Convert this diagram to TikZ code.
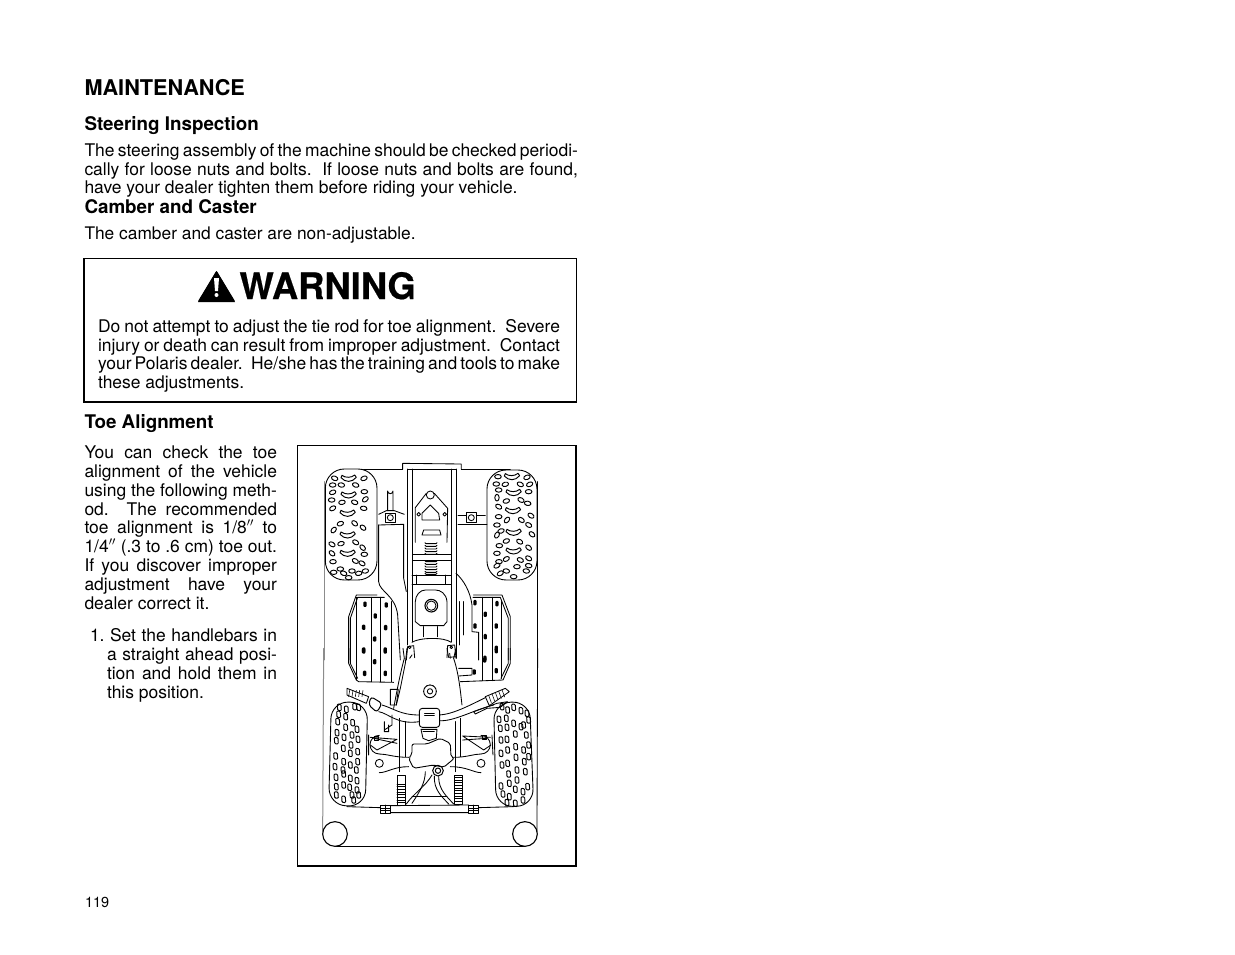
\documentclass[tikz,border=0pt]{standalone}
\usepackage{fontspec}
\setmainfont{TeX Gyre Heros}
\newfontfamily\warnfont{TeX Gyre Heros}[BoldFeatures={FakeBold=0.5}]
\newcommand\bodyfont{\fontsize{17.45}{19}\selectfont}
\newcommand\jl[5]{\node[txt] (#1) at (#2,#3) {\bodyfont\hbox to #4pt{\spaceskip=.278em plus 1fil minus .12em\relax #5}};}
\newcommand\nl[4]{\node[txt] (#1) at (#2,#3) {\bodyfont #4};}
\newcommand\dsp{\hskip .56em plus 2fil minus .1em\relax}
\newcommand\tread[1]{\foreach \x/\y/\a in {#1}{\draw[line width=.95pt,rotate around={\a:(\x,\y)}] (\x,\y) ellipse (10 and 6.5);}}
\newcommand\lug[1]{\foreach \x/\y in {#1}{\draw[line width=.95pt,rounded corners=1pt] (\x-6,\y-10) -- (\x+5,\y-9) -- (\x+6,\y+10) -- (\x-5,\y+9) -- cycle;}}
\newcommand\chev[1]{\foreach \x/\y in {#1}{\draw[line width=.95pt,line join=round] (\x-20,\y-9) .. controls (\x-10,\y-1) and (\x+8,\y-1) .. (\x+18,\y-10) -- (\x+23,\y-3) .. controls (\x+10,\y+13) and (\x-10,\y+13) .. (\x-23,\y-2) -- cycle;}}
\newcommand\peg[1]{\foreach \x/\y in {#1}{\fill[black,rounded corners=1] (\x-5,\y-8) rectangle (\x+5,\y+8);}}
\tikzset{txt/.style={anchor=base west,inner sep=0pt,outer sep=0pt,text=black},
 art/.style={line width=0.85pt,black,line join=round,line cap=round},
 fine/.style={line width=0.55pt,black,line join=round},
 edge/.style={line width=1pt,black!45}}
\begin{document}
\begin{tikzpicture}[x=1pt,y=-1pt]
\useasboundingbox (0,0) rectangle (1235,954);
\fill[white] (0,0) rectangle (1235,954);
% headings
\node[txt,font=\fontsize{21.7}{24}\selectfont\bfseries] (h1) at (84.5,95) {MAINTENANCE};
\node[txt,font=\fontsize{18.8}{20}\selectfont\bfseries] (h2) at (84.5,130) {Steering Inspection};
\jl{a1}{84.5}{156}{493.5}{The steering assembly of the machine should be checked periodi-}
\jl{a2}{84.5}{175}{493.5}{cally for loose nuts and bolts.\dsp If loose nuts and bolts are found,}
\nl{a3}{84.5}{193}{have your dealer tighten them before riding your vehicle.}
\node[txt,font=\fontsize{18.8}{20}\selectfont\bfseries] (h3) at (84.5,213) {Camber and Caster};
\node[txt,font=\fontsize{17.35}{19}\selectfont] (b1) at (84.5,239) {The camber and caster are non-adjustable.};
% warning
\draw[line width=1.1pt] (84,258.5) rectangle (576.5,402);
\fill[line join=round] (198,302) -- (216.5,271) -- (235,302) -- cycle;
\draw[line width=1.5pt,line join=round] (199,301) -- (216.5,272) -- (234,301) -- cycle;
\fill[white] (214,278) -- (219,278) -- (218,291) -- (215,291) -- cycle;
\fill[white] (216.5,295) circle (2);
\node[txt,font=\fontsize{36.4}{38}\warnfont\bfseries] (w1) at (239.5,299) {WARNING};
\jl{c1}{98}{332}{462}{Do not attempt to adjust the tie rod for toe alignment.\dsp Severe}
\jl{c2}{98}{351}{462}{injury or death can result from improper adjustment.\dsp Contact}
\jl{c3}{98}{369}{462}{your Polaris dealer.\dsp He/she has the training and tools to make}
\nl{c4}{98}{388}{these adjustments.}
\node[txt,font=\fontsize{18.8}{20}\selectfont\bfseries] (h4) at (84.5,428) {Toe Alignment};
% column
\jl{d1}{84.5}{458}{192.5}{You can check the toe}
\jl{d2}{84.5}{477}{192.5}{alignment of the vehicle}
\jl{d3}{84.5}{496}{192.5}{using the following meth-}
\jl{d4}{84.5}{515}{192.5}{od.\dsp The recommended}
\jl{d5}{84.5}{533}{192.5}{toe alignment is 1/8$''$ to}
\jl{d6}{84.5}{552}{192.5}{1/4$''$ (.3 to .6 cm) toe out.}
\jl{d7}{84.5}{571}{192.5}{If you discover improper}
\jl{d8}{84.5}{590}{192.5}{adjustment have your}
\nl{d9}{84.5}{609}{dealer correct it.}
\jl{e1}{90}{641}{187}{1.\kern5.5pt Set the handlebars in}
\jl{e2}{107}{660}{170}{a straight ahead posi-}
\jl{e3}{107}{679}{170}{tion and hold them in}
\nl{e4}{107}{698}{this position.}
\node[txt,font=\fontsize{14.5}{16}\selectfont] (pg) at (85,907) {119};
% figure frame
\draw[line width=1.2pt] (297.5,445.5) rectangle (576,866);
% ---- upper half of the figure
\begin{scope}[shift={(297,445)},x=0.3333pt,y=-0.3333pt,art]
\draw[edge] (83,110) -- (83,645);
\draw (722,110) -- (722,645);
\draw (150,72) -- (317,72) (493,72) -- (640,72);
\draw (317,55) -- (493,57) -- (493,72) (317,55) -- (317,72);
\draw (332,72) -- (332,600) (345,72) -- (345,590) (463,72) -- (463,590) (477,72) -- (477,640);
\draw (332,72) -- (477,72);
\fill[white,draw=black,line width=.9pt,rounded corners=19pt] (85,72) rectangle (240,405);
\fill[white,draw=black,line width=.9pt,rounded corners=19pt] (570,75) rectangle (720,405);
\chev{155/100,155/150,152/205,152/270,152/325,645/95,650/143,648/197,650/262,650/318}
\tread{113/100/-20,107/120/0,133/120/-10,176/120/-20,201/100/20,107/142/20,202/140/0,104/165/0,135/172/10,173/172/-20,205/163/40,107/190/30,200/190/-10,130/236/20,173/235/-40,198/248/-40,110/255/50,105/298/-30,132/296/15,176/292/-30,197/308/-45,105/325/-40,202/328/0,108/350/0,175/348/-30,195/355/-30,130/372/0,165/378/0,205/378/10,110/382/0,140/385/-20,185/385/10,155/398/0}
\tread{603/95/0,690/97/20,598/117/0,625/118/15,670/118/-25,698/118/25,605/135/0,695/140/0,600/158/90,628/168/15,672/165/-30,692/175/-10,605/185/-30,630/225/50,673/225/-35,702/212/-35,605/215/0,600/240/0,612/258/20,695/240/-30,668/290/-30,705/268/-40,600/270/60,628/288/20,607/302/0,695/308/-40,600/325/0,628/342/30,670/345/-25,695/340/-30,606/350/0,600/362/30,628/378/-10,660/365/0,695/362/-10,610/385/30,650/395/0,688/378/-10}
% rear axle
\draw[line width=.9pt] (272,197) -- (272,138) arc[start angle=180,end angle=0,radius=8] -- (288,197);
\draw (245,208) -- (268,197) -- (292,197) -- (322,208);
\draw (265,205) rectangle (295,232);
\draw (280,218) circle (9);
\draw (483,210) -- (508,210) (538,210) -- (565,210) (483,238) -- (570,238);
\draw (508,203) rectangle (538,232);
\draw (523,218) circle (9);
\draw (245,240) -- (320,238) -- (320,400) -- (328,440);
\draw (245,240) -- (245,410) .. controls (247,440) and (295,450) .. (302,510) -- (310,645);
% centre plate
\draw (400,150) circle (12);
\draw (388,145) -- (355,188) -- (355,292) (412,145) -- (452,190) -- (450,292);
\draw (375,205) -- (400,180) -- (425,205) -- (428,225) -- (375,225) -- cycle;
\draw (365,208) circle (5.5) (443,208) circle (5.5);
\draw (375,270) -- (380,255) -- (428,255) -- (432,270) -- cycle;
\foreach \y in {296,304,312,320,328,350,358,366,374,382,388}{\draw[rounded corners=1pt] (384,\y-3) -- (384,\y) -- (420,\y) -- (420,\y-3);}
\fill[white,draw=black] (345,328) rectangle (463,345);
\draw[line width=.9pt] (345,390) -- (463,390) (345,417) -- (463,417);
\draw (358,390) -- (358,417) (445,390) -- (445,417);
\draw (355,470) -- (355,530) -- (370,542) -- (440,542) -- (450,530) -- (450,470) .. controls (448,445) and (430,435) .. (415,435) -- (385,435) .. controls (370,435) and (355,450) .. (355,470) -- cycle;
\draw[line width=1.1pt] (403,482) circle (19);
\draw (403,482) circle (14);
\draw (380,545) -- (380,575) (420,545) -- (420,575);
\draw (345,592) .. controls (365,578) and (440,575) .. (463,592);
\draw (328,645) -- (332,605) -- (350,602) -- (353,638) (345,630) -- (338,640);
\draw (450,638) -- (452,602) -- (473,600) -- (477,640) (458,625) -- (460,640);
\draw (338,607) circle (4) (463,607) circle (4);
% front fender right
\draw (477,385) .. controls (500,405) and (520,440) .. (525,480) -- (525,560) -- (545,562) -- (545,645);
\draw (488,470) -- (488,600) (498,470) -- (498,570);
% foot boards
\draw (155,645) -- (155,515) -- (178,450) -- (240,450);
\draw (160,645) -- (160,520) -- (182,457) -- (262,457);
\draw (178,457) -- (178,645) (222,457) -- (222,645) (250,457) -- (250,645) (282,470) -- (282,645);
\peg{204/478,268/480,235/513,200/547,266/548,233/582,200/615,265/615}
\draw (640,645) -- (640,515) -- (615,450) -- (530,450);
\draw (634,645) -- (634,520) -- (610,457) -- (528,457);
\draw (555,457) -- (555,645) (585,457) -- (585,645) (612,470) -- (612,645);
\peg{534/473,600/476,565/508,534/543,598/543,565/575,598/610,564/640}
\end{scope}
% ---- lower half of the figure
\begin{scope}[shift={(297,650)},x=0.3333pt,y=-0.3333pt,art]
\draw (155,-5) -- (155,40) -- (178,90) -- (185,95) -- (290,97);
\draw (160,-5) -- (160,40) -- (182,85);
\draw (178,-5) -- (178,90) (222,-5) -- (222,95) (250,-5) -- (250,95) (282,-5) -- (282,95);
\peg{200/3,265/3,233/35,203/70,265/70}
\draw (640,-5) -- (640,40) -- (618,90) -- (490,95);
\draw (634,-5) -- (634,40) -- (612,85);
\draw (555,-5) -- (555,92) (585,-5) -- (585,92) (612,-5) -- (612,85);
\draw (485,55) -- (525,55) -- (525,75) -- (485,78);
\peg{598/2,563/30,532/66,598/62}
\draw (322,25) .. controls (312,60) and (300,120) .. (290,175);
\draw (318,-5) -- (322,25) (330,-5) -- (325,40) -- (310,115) -- (298,165);
\draw (470,25) .. controls (485,70) and (490,120) .. (495,165);
\draw (477,-5) -- (470,25) (450,-5) -- (455,22) -- (478,20);
\draw (280,118) -- (304,118) -- (298,165) -- (280,165) -- cycle;
\draw (399,124) circle (19) (399,124) circle (8);
\foreach \a in {0,30,...,330}{\fill (399,124) ++(\a:19) circle (2);}
% outer frame
\draw[edge] (80,-5) -- (77,545);
\draw (722,-5) -- (720,545);
\draw[line width=.9pt] (114,588) -- (684,588);
\fill[white,draw=black,line width=1.1pt] (114,552) circle (37) (684,552) circle (37);
\draw (150,470) -- (250,473) (545,473) -- (650,470);
% tyres
\fill[white,draw=black,line width=.9pt,rounded corners=17pt] (103,155) -- (212,158) -- (205,470) -- (95,465) -- cycle;
\fill[white,draw=black,line width=.9pt,rounded corners=17pt] (590,158) -- (698,155) -- (710,468) -- (597,470) -- cycle;
\lug{127/172,148/178,173/170,125/193,146/200,185/172,122/215,167/218,146/232,120/248,180/238,141/262,165/255,118/272,183/268,139/295,162/285,116/318,182/305,160/310,140/335,114/350,160/345,182/335,138/360,178/360,117/382,140/372,160/385,180/392,118/410,140/405,158/412,118/435,140/448,165/435,185/435,170/450,180/420}
\lug{615/170,632/180,650/172,672/182,690/190,606/208,628/205,650/220,672/230,695/210,610/235,630/232,655/252,680/225,612/270,630/268,656/290,688/255,612/310,632/300,680/300,695/285,615/345,632/340,657/322,682/335,695/320,635/372,660/360,685/365,612/408,637/400,660/390,692/410,618/432,637/440,655/418,678/425,630/458,655/460,678/450}
% handlebar
\draw (150,115) -- (215,140) -- (208,160) -- (150,135) -- cycle;
\foreach \i in {158,168,178,188,198}{\draw[fine] (\i,121) -- (\i-3,140);}
\fill[white,draw=black,line width=1pt,rounded corners=3pt] (222,140) -- (255,160) -- (240,187) -- (215,165) -- cycle;
\draw (255,165) .. controls (290,175) and (310,195) .. (367,195);
\draw (245,185) .. controls (275,190) and (300,225) .. (367,215);
\draw[rounded corners=3pt,line width=.9pt] (367,175) rectangle (428,232);
\draw (383,190) -- (412,190) (383,196) -- (412,196);
\draw (428,195) .. controls (470,192) and (520,165) .. (565,143);
\draw (428,212) .. controls (470,215) and (530,180) .. (590,165);
\draw (565,140) -- (625,115) -- (637,125) -- (577,167) -- cycle;
\foreach \i/\j in {575/136,585/131,595/127,605/123,615/119}{\draw[fine] (\i,\j) -- (\i+8,\j+22);}
\draw (530,185) -- (600,160) -- (632,155) -- (610,172) -- (570,175) -- (535,192) -- cycle;
\draw (285,195) -- (285,225) -- (262,240) (262,215) -- (262,245) -- (275,245) -- (275,225);
\draw (308,205) -- (308,365) (325,215) -- (325,320);
\draw (475,215) -- (475,365) (490,205) -- (490,320);
\draw (372,238) -- (420,238) -- (418,265) -- (395,272) -- (378,265) -- cycle;
\draw (378,245) -- (412,245);
\draw[line width=.9pt,rounded corners=2pt] (345,282) -- (390,282) -- (430,265) -- (460,280) -- (462,320) -- (472,325) -- (440,352) -- (410,345) -- (350,355) -- (335,325) -- (345,312) -- cycle;
% suspension
\draw (215,255) -- (215,315) (220,262) -- (300,268) -- (240,300) -- (220,285) (230,265) -- (300,280);
\draw (232,260) rectangle (244,270);
\draw (585,255) -- (588,315) (580,262) -- (497,258) -- (560,300) -- (582,285) (570,265) -- (497,270);
\draw (556,257) rectangle (568,268);
\draw (247,312) .. controls (270,312) and (290,322) .. (335,322);
\draw (247,368) .. controls (270,368) and (290,350) .. (335,350);
\draw (247,312) arc[start angle=90,end angle=270,radius=28];
\draw (247,340) circle (12);
\draw (552,312) .. controls (530,312) and (510,322) .. (470,322);
\draw (552,368) .. controls (530,368) and (510,350) .. (460,350);
\draw (552,312) arc[start angle=90,end angle=-90,radius=28];
\draw (552,340) circle (12);
\draw[line width=1pt] (423,362) circle (16) (423,362) circle (8);
\draw (300,375) rectangle (325,465) (472,375) rectangle (497,462);
\foreach \y in {402,410,...,458}{\draw[fine] (300,\y) -- (325,\y);}
\foreach \y in {382,390,...,458}{\draw[fine] (472,\y) -- (497,\y);}
\draw (405,375) .. controls (385,410) and (350,430) .. (328,462);
\draw (385,365) .. controls (385,400) and (365,430) .. (345,460);
\draw (425,380) .. controls (425,420) and (450,440) .. (470,462);
\draw (412,378) .. controls (410,420) and (435,440) .. (455,462);
\draw (345,438) -- (450,438);
\draw (250,465) rectangle (280,490) (515,465) rectangle (545,490);
\draw[fine] (250,475) -- (280,475) (250,482) -- (280,482) (265,465) -- (265,490) (515,475) -- (545,475) (515,482) -- (545,482) (530,465) -- (530,490);
\draw (280,467) -- (515,465) (280,488) -- (515,488);
\end{scope}
\end{tikzpicture}
\end{document}
